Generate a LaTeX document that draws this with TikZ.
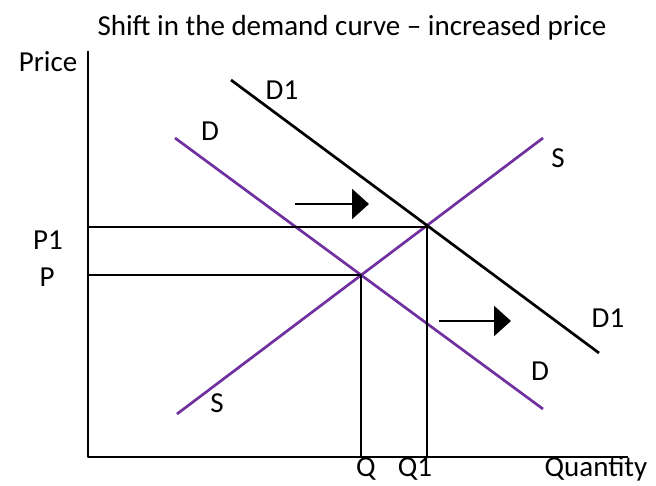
\documentclass[tikz,border=0pt]{standalone}
\usepackage{fontspec}
\setmainfont{Carlito}
\usepackage{xcolor}
\usetikzlibrary{arrows.meta}
\definecolor{ink}{HTML}{000000}
\definecolor{curve}{HTML}{7030A0}
\tikzset{fig/.style={line join=round,>=Stealth},
  lbl/.style={font=\fontsize{29}{33}\selectfont,ink,inner sep=0pt},
  axis/.style={ink,line width=2.7pt},
  guide/.style={ink,line width=2.7pt},
  shiftarrow/.style={ink,line width=2.7pt,-{Triangle[length=17pt,width=30pt]}}}

\begin{document}
\begin{tikzpicture}[fig,x=1pt,y=-1pt]
  \useasboundingbox(0,0)rectangle(656,486);
  \node[lbl](title)at(352,28){Shift in the demand curve – increased price};
  % axes
  \coordinate(O)at(88,457);
  \coordinate(top)at(88,51);
  \coordinate(right)at(628,457);
  \draw[axis](top)--(O)--(right);
  \node[lbl](price)at(48,62){Price};
  \node[lbl](qty)at(596,469){Quantity};
  % supply and the two demand curves
  \coordinate(S0)at(177,414);\coordinate(S1)at(543,138);
  \coordinate(D0)at(175,138);\coordinate(D1b)at(543,409);
  \coordinate(N0)at(231,80);\coordinate(N1)at(599,353);
  \draw[curve,line width=2.7pt](S0)--(S1);
  \draw[curve,line width=2.7pt](D0)--(D1b);
  \draw[ink,line width=2.7pt](N0)--(N1);
  % old and new equilibrium
  \coordinate(E)at(361,275);\coordinate(E1)at(427,227);
  \coordinate(Py)at(88,275);\coordinate(P1y)at(88,227);
  \coordinate(Qx)at(361,457);\coordinate(Q1x)at(427,457);
  \draw[guide](Py)--(E)--(Qx);
  \draw[guide](P1y)--(E1)--(Q1x);
  \node[lbl](P)at(47,277){P};
  \node[lbl](P1)at(48,240){P1};
  \node[lbl](Q)at(366,469){Q};
  \node[lbl](Q1)at(415,469){Q1};
  % curve labels
  \node[lbl](lD1a)at(282,90){D1};
  \node[lbl](lD1b)at(608,318){D1};
  \node[lbl](lDa)at(210,131){D};
  \node[lbl](lDb)at(540,371){D};
  \node[lbl](lSa)at(558,158){S};
  \node[lbl](lSb)at(217,403){S};
  % shift arrows
  \coordinate(a0)at(295,204);\coordinate(a1)at(369,204);
  \coordinate(b0)at(439,321);\coordinate(b1)at(511,321);
  \draw[shiftarrow](a0)--(a1);
  \draw[shiftarrow](b0)--(b1);
\end{tikzpicture}
\end{document}
